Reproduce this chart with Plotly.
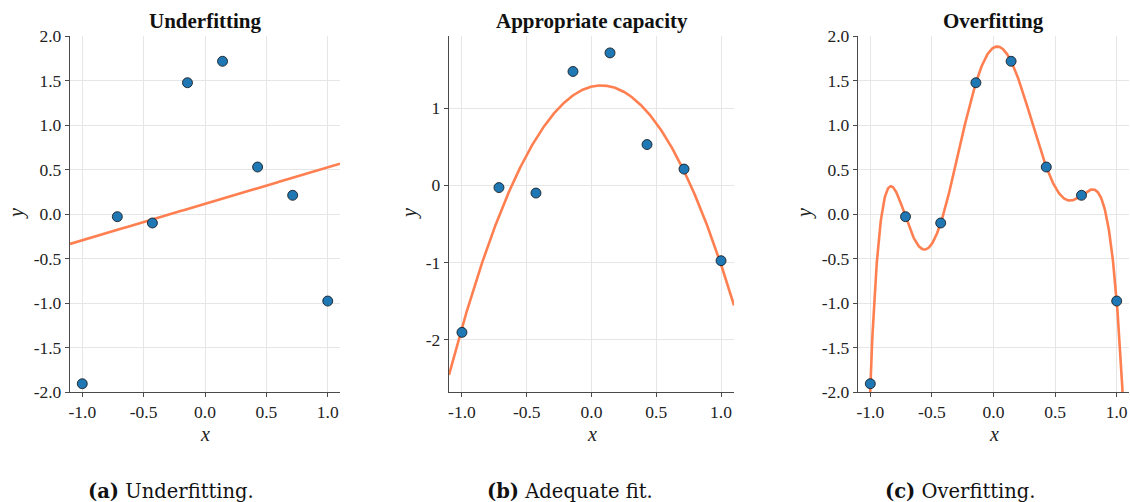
import numpy as np
import plotly.graph_objects as go

# ---- data ----
x_data = [-1.0, -5/7, -3/7, -1/7, 1/7, 3/7, 5/7, 1.0]
y_data = [-1.907, -0.03, -0.101, 1.475, 1.716, 0.528, 0.21, -0.978]

panel_titles = ["Underfitting", "Appropriate capacity", "Overfitting"]
caption_tags = ["(a)", "(b)", "(c)"]
caption_texts = ["Underfitting.", "Adequate fit.", "Overfitting."]
fit_degrees = [1, 2, 7]

x_tickvals = [-1.0, -0.5, 0.0, 0.5, 1.0]
x_ticktext = ["-1.0", "-0.5", "0.0", "0.5", "1.0"]
y_tickvals_a = [-2.0, -1.5, -1.0, -0.5, 0.0, 0.5, 1.0, 1.5, 2.0]
y_ticktext_a = ["-2.0", "-1.5", "-1.0", "-0.5", "0.0", "0.5", "1.0", "1.5", "2.0"]
y_tickvals_b = [-2, -1, 0, 1]
y_ticktext_b = ["-2", "-1", "0", "1"]

x_range = [-1.1, 1.1]
y_ranges = [[-2.0, 2.0], [-2.68, 1.935], [-2.0, 2.0]]

# ---- layout geometry ----
W, H = 1130, 502
px_domains = [(70, 340), (449, 734), (858, 1129)]
top_px, bot_px = 36, 392
ydom = [(H - bot_px) / H, (H - top_px) / H]

LINE_COLOR = "#ff7f50"
DOT_COLOR = "#1f77b4"
AXIS_COLOR = "#4a4a4a"
GRID_COLOR = "#e6e6e6"
TICK_FONT = dict(family="Liberation Serif, serif", size=17.5, color="#222222")

fig = go.Figure()
xs = np.linspace(x_range[0], x_range[1], 600)

for i in range(3):
    xa = "x" if i == 0 else f"x{i+1}"
    ya = "y" if i == 0 else f"y{i+1}"
    coefs = np.polyfit(x_data, y_data, fit_degrees[i])
    ys = np.polyval(coefs, xs)
    fig.add_trace(go.Scatter(x=xs, y=ys, mode="lines",
                             line=dict(color=LINE_COLOR, width=2.6),
                             xaxis=xa, yaxis=ya, showlegend=False,
                             hoverinfo="skip"))
    fig.add_trace(go.Scatter(x=x_data, y=y_data, mode="markers",
                             marker=dict(color=DOT_COLOR, size=10,
                                         line=dict(color="#111111", width=0.8)),
                             xaxis=xa, yaxis=ya, showlegend=False))

    d0, d1 = px_domains[i]
    xkey = "xaxis" if i == 0 else f"xaxis{i+1}"
    ykey = "yaxis" if i == 0 else f"yaxis{i+1}"
    if i == 1:
        yv, yt = y_tickvals_b, y_ticktext_b
    else:
        yv, yt = y_tickvals_a, y_ticktext_a
    common = dict(showline=True, linecolor=AXIS_COLOR, linewidth=1.3,
                  ticks="outside", ticklen=4, tickcolor=AXIS_COLOR,
                  showgrid=True, gridcolor=GRID_COLOR, gridwidth=1,
                  zeroline=False, tickfont=TICK_FONT, fixedrange=True,
                  automargin=False)
    fig.layout[xkey] = dict(domain=[d0 / W, d1 / W], range=x_range, anchor=ya,
                            tickvals=x_tickvals, ticktext=x_ticktext, **common)
    fig.layout[ykey] = dict(domain=ydom, range=y_ranges[i], anchor=xa,
                            tickvals=yv, ticktext=yt, **common)

    cx = (d0 + d1) / 2 / W
    fig.add_annotation(x=cx, y=(H - 21) / H, xref="paper", yref="paper",
                       text=f"<b>{panel_titles[i]}</b>", showarrow=False,
                       font=dict(family="Liberation Serif, serif", size=21, color="#111111"),
                       xanchor="center", yanchor="middle")
    fig.add_annotation(x=cx, y=(H - 434) / H, xref="paper", yref="paper",
                       text="<i>x</i>", showarrow=False,
                       font=dict(family="Liberation Serif, serif", size=20, color="#222222"),
                       xanchor="center", yanchor="middle")
    ylab_px = [17, 410, 805][i]
    fig.add_annotation(x=ylab_px / W, y=(H - 214) / H, xref="paper", yref="paper",
                       text="<i>y</i>", showarrow=False, textangle=-90,
                       font=dict(family="Liberation Serif, serif", size=20, color="#222222"),
                       xanchor="center", yanchor="middle")
    cap_cx = [171, 570, 960][i]
    fig.add_annotation(x=cap_cx / W, y=(H - 491) / H, xref="paper", yref="paper",
                       text=f"<b>{caption_tags[i]}</b> {caption_texts[i]}",
                       showarrow=False,
                       font=dict(family="DejaVu Serif", size=19.5, color="#111111"),
                       xanchor="center", yanchor="middle")

fig.update_layout(width=W, height=H, margin=dict(l=0, r=0, t=0, b=0, pad=0),
                  autosize=False,
                  paper_bgcolor="white", plot_bgcolor="white")

fig.write_html("out.html", config={"responsive": False, "displayModeBar": False},
               post_script="document.body.style.margin='0';document.body.style.overflow='hidden';")
